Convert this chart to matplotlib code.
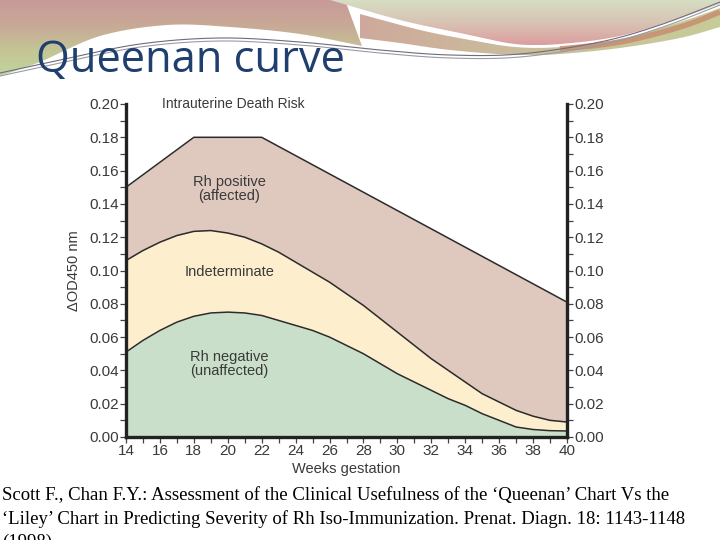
import numpy as np
import matplotlib
matplotlib.use("Agg")
import matplotlib.pyplot as plt
from matplotlib.path import Path
from matplotlib.patches import PathPatch
from matplotlib.colors import LinearSegmentedColormap
from matplotlib.ticker import MultipleLocator

# ──────────────────────────────────────────────────────────────────────────────
# Data (ΔOD450 vs weeks gestation)
# ──────────────────────────────────────────────────────────────────────────────

weeks = np.arange(14, 41)

# upper boundary: intrauterine death risk line (piecewise linear)
upper_weeks = [14, 18, 22, 40]
upper_od = [0.150, 0.180, 0.180, 0.081]

# top of the "indeterminate" zone
middle_od = [0.106, 0.112, 0.117, 0.121, 0.1235, 0.124, 0.1225, 0.120, 0.116,
             0.111, 0.105, 0.099, 0.093, 0.086, 0.079, 0.071, 0.063, 0.055,
             0.047, 0.040, 0.033, 0.026, 0.021, 0.016, 0.0125, 0.010, 0.009]

# top of the "Rh negative" zone
lower_od = [0.051, 0.058, 0.064, 0.069, 0.0725, 0.0745, 0.075, 0.0745, 0.073,
            0.070, 0.067, 0.064, 0.060, 0.055, 0.050, 0.044, 0.038, 0.033,
            0.028, 0.023, 0.019, 0.014, 0.010, 0.006, 0.0045, 0.0038, 0.0036]

zone_labels = ["Rh positive\n(affected)", "Indeterminate", "Rh negative\n(unaffected)"]

TITLE = "Queenan curve"
CITATION = ("Scott F., Chan F.Y.: Assessment of the Clinical Usefulness of the \u2018Queenan\u2019 Chart Vs the\n"
            "\u2018Liley\u2019 Chart in Predicting Severity of Rh Iso-Immunization. Prenat. Diagn. 18: 1143-1148\n"
            "(1998)")

C_POS = "#dfc8bd"
C_IND = "#fdeecd"
C_NEG = "#c9dfca"
C_LINE = "#2b2b2b"
C_TXT = "#3a3a3a"


# ──────────────────────────────────────────────────────────────────────────────
# Slide decoration helpers (pixel coordinates, y down)
# ──────────────────────────────────────────────────────────────────────────────

def smooth(pts, n=24):
    """Catmull-Rom through the given points."""
    p = np.asarray(pts, float)
    p = np.vstack([p[0], p, p[-1]])
    out = []
    t = np.linspace(0, 1, n, endpoint=False)[:, None]
    for i in range(1, len(p) - 2):
        p0, p1, p2, p3 = p[i - 1], p[i], p[i + 1], p[i + 2]
        out.append(0.5 * (2 * p1 + (-p0 + p2) * t
                          + (2 * p0 - 5 * p1 + 4 * p2 - p3) * t ** 2
                          + (-p0 + 3 * p1 - 3 * p2 + p3) * t ** 3))
    out.append(p[-2][None])
    return np.vstack(out)


def gradient_fill(ax, verts, colors, vertical=True):
    verts = np.asarray(verts)
    patch = PathPatch(Path(verts, closed=False), facecolor="none", edgecolor="none")
    ax.add_patch(patch)
    x0, y0 = verts.min(axis=0)
    x1, y1 = verts.max(axis=0)
    cmap = LinearSegmentedColormap.from_list("g", colors)
    grad = np.linspace(0, 1, 256)
    grad = grad[:, None] if vertical else grad[None, :]
    im = ax.imshow(grad, cmap=cmap, extent=(x0, x1, y1, y0), aspect="auto",
                   interpolation="bicubic", zorder=1)
    im.set_clip_path(patch)


def draw_decoration(bg):
    # top-left band, pink -> tan -> green
    lower_left = smooth([(362, 46), (300, 34), (230, 27), (167, 25), (100, 36),
                         (40, 62), (0, 76)])
    verts = np.vstack([[(0, 0), (345, 0)], lower_left, [(0, 0)]])
    gradient_fill(bg, verts, ["#c99a9b", "#c8a996", "#c4c596", "#c1d59c"])

    # top-right region, pale green -> pink
    lower_right = smooth([(330, 0), (400, 20), (460, 33), (515, 44), (560, 44),
                          (620, 36), (680, 18), (720, 4)])
    verts = np.vstack([lower_right, [(720, 0), (330, 0)]])
    gradient_fill(bg, verts, ["#d6dfc4", "#d8c4b4", "#dd9d9f"])

    # lower sweeping band on the right (tan/green with a brown edge)
    top_b = smooth([(360, 14), (420, 30), (470, 40), (515, 47), (560, 47),
                    (620, 39), (680, 22), (720, 8)])
    bot_b = smooth([(720, 27), (680, 38), (620, 48), (560, 54), (515, 55),
                    (450, 50), (400, 43), (360, 38)])
    verts = np.vstack([top_b, bot_b, top_b[:1]])
    gradient_fill(bg, verts, ["#cfa99b", "#c9bf9c", "#c7cc98"], vertical=False)
    brown = smooth([(560, 49), (620, 42), (680, 27), (720, 12)])
    bg.plot(brown[:, 0], brown[:, 1], color="#c88a6c", lw=4, alpha=0.8, zorder=2,
            solid_capstyle="butt")

    # thin grey swoosh lines
    for dy, c in ((0, "#6d6d7a"), (3, "#9a9aa5")):
        ln = smooth([(0, 73 + dy), (60, 60 + dy), (140, 44 + dy), (220, 38 + dy),
                     (300, 42 + dy), (380, 50 + dy), (450, 55 + dy), (520, 54 + dy),
                     (600, 42 + dy), (660, 25 + dy), (720, 2 + dy)])
        bg.plot(ln[:, 0], ln[:, 1], color=c, lw=0.8, zorder=3)


# ──────────────────────────────────────────────────────────────────────────────
# Figure
# ──────────────────────────────────────────────────────────────────────────────

fig = plt.figure(figsize=(7.2, 5.4), dpi=100)
fig.patch.set_facecolor("white")

bg = fig.add_axes([0, 0, 1, 1])
bg.set_xlim(0, 720)
bg.set_ylim(540, 0)
bg.axis("off")
draw_decoration(bg)

bg.text(36, 72, TITLE, fontsize=31.3, color="#1f3f6e", family="Open Sans",
        va="baseline", ha="left", zorder=5)
bg.text(2, 487, CITATION, fontsize=13.5, color="black", family="Liberation Serif",
        va="top", ha="left", linespacing=1.45, zorder=5)

ax = fig.add_axes([126 / 720, 1 - 437 / 540, 441 / 720, 333 / 540])
upper_interp = np.interp(weeks, upper_weeks, upper_od)
ax.fill_between(weeks, 0, lower_od, color=C_NEG, lw=0)
ax.fill_between(weeks, lower_od, middle_od, color=C_IND, lw=0)
ax.fill_between(weeks, middle_od, upper_interp, color=C_POS, lw=0)
ax.plot(upper_weeks, upper_od, color=C_LINE, lw=1.1)
ax.plot(weeks, middle_od, color=C_LINE, lw=1.1)
ax.plot(weeks, lower_od, color=C_LINE, lw=1.1)

ax.set_xlim(14, 40)
ax.set_ylim(0, 0.20)
ax.patch.set_alpha(0)

font = dict(family="Liberation Sans", color=C_TXT)
ax.text(20.3, 0.200, "Intrauterine Death Risk", ha="center", va="center", fontsize=10, **font)
ax.text(20.1, 0.149, zone_labels[0], ha="center", va="center", fontsize=10.5, linespacing=1.0, **font)
ax.text(20.1, 0.099, zone_labels[1], ha="center", va="center", fontsize=10.5, **font)
ax.text(20.1, 0.044, zone_labels[2], ha="center", va="center", fontsize=10.5, linespacing=1.0, **font)

for s in ("left", "right", "bottom"):
    ax.spines[s].set_linewidth(2.4)
    ax.spines[s].set_color("#222222")
ax.spines["top"].set_visible(False)

ax.xaxis.set_major_locator(MultipleLocator(2))
ax.xaxis.set_minor_locator(MultipleLocator(1))
ax.yaxis.set_major_locator(MultipleLocator(0.02))
ax.yaxis.set_minor_locator(MultipleLocator(0.01))
ax.yaxis.set_major_formatter(lambda v, p: f"{v:.2f}")
ax.tick_params(which="both", direction="out", length=4, width=0.9, color="#444444",
               labelsize=11, labelcolor=C_TXT, left=True, right=True,
               labelleft=True, labelright=True, pad=1)
for lab in ax.get_xticklabels() + ax.get_yticklabels():
    lab.set_family("Liberation Sans")

ax.set_xlabel("Weeks gestation", fontsize=10.5, labelpad=3, **font)
ax.set_ylabel("\u0394OD450 nm", fontsize=10.5, labelpad=6, **font)

fig.savefig("out.png", dpi=100)
